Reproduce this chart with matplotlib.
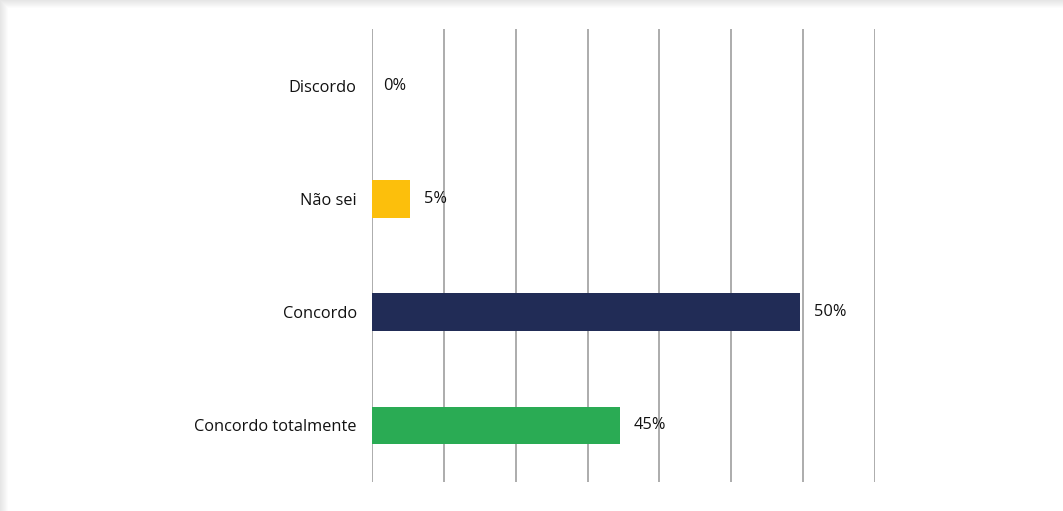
import matplotlib
matplotlib.use("Agg")
import matplotlib.pyplot as plt
import numpy as np
from matplotlib.patches import Rectangle

categories = ["Concordo totalmente", "Concordo", "Não sei", "Discordo"]
bar_lengths = [3.45, 5.96, 0.53, 0.0]
value_labels = ["45%", "50%", "5%", "0%"]
colors = ["#2aab54", "#212c56", "#fcbf0c", "#7f7f7f"]

W, H = 1063, 511
fig = plt.figure(figsize=(W / 100, H / 100), dpi=100)
fig.patch.set_facecolor("white")

# soft shadow along top and left edges
for i in range(8):
    shade = 0.90 + 0.10 * (i / 8)
    c = (shade, shade, shade)
    fig.add_artist(Rectangle((i / W, 0), 1 / W, 1 - i / H, transform=fig.transFigure,
                             facecolor=c, edgecolor="none", zorder=0))
    fig.add_artist(Rectangle((i / W, 1 - (i + 1) / H), 1 - i / W, 1 / H, transform=fig.transFigure,
                             facecolor=c, edgecolor="none", zorder=0))

left, right = 372 / W, 875 / W
top, bottom = 29 / H, 482 / H
ax = fig.add_axes([left, 1 - bottom, right - left, bottom - top])
ax.set_facecolor("none")

fam = ["Open Sans", "DejaVu Sans"]
y = np.arange(len(categories))
ax.barh(y, bar_lengths, height=0.33, color=colors, zorder=3)
ax.set_xlim(0, 7)
ax.set_ylim(-0.5, len(categories) - 0.5)
ax.set_xticks(np.arange(0, 8, 1))
ax.xaxis.grid(True, color="#a6a6a6", linewidth=1.3, zorder=0)
ax.tick_params(axis="x", length=0, labelbottom=False)
ax.tick_params(axis="y", length=0, pad=11)
ax.set_yticks(y)
ax.set_yticklabels(categories, fontsize=11.8, family=fam, color="#111111")
for s in ax.spines.values():
    s.set_visible(False)

for yi, v, lab in zip(y, bar_lengths, value_labels):
    ax.annotate(lab, (v, yi), xytext=(10 if v > 0 else 8, 0), textcoords="offset points",
                va="center", ha="left", fontsize=11.8, family=fam, color="#111111")

fig.savefig("out.png", dpi=100)
